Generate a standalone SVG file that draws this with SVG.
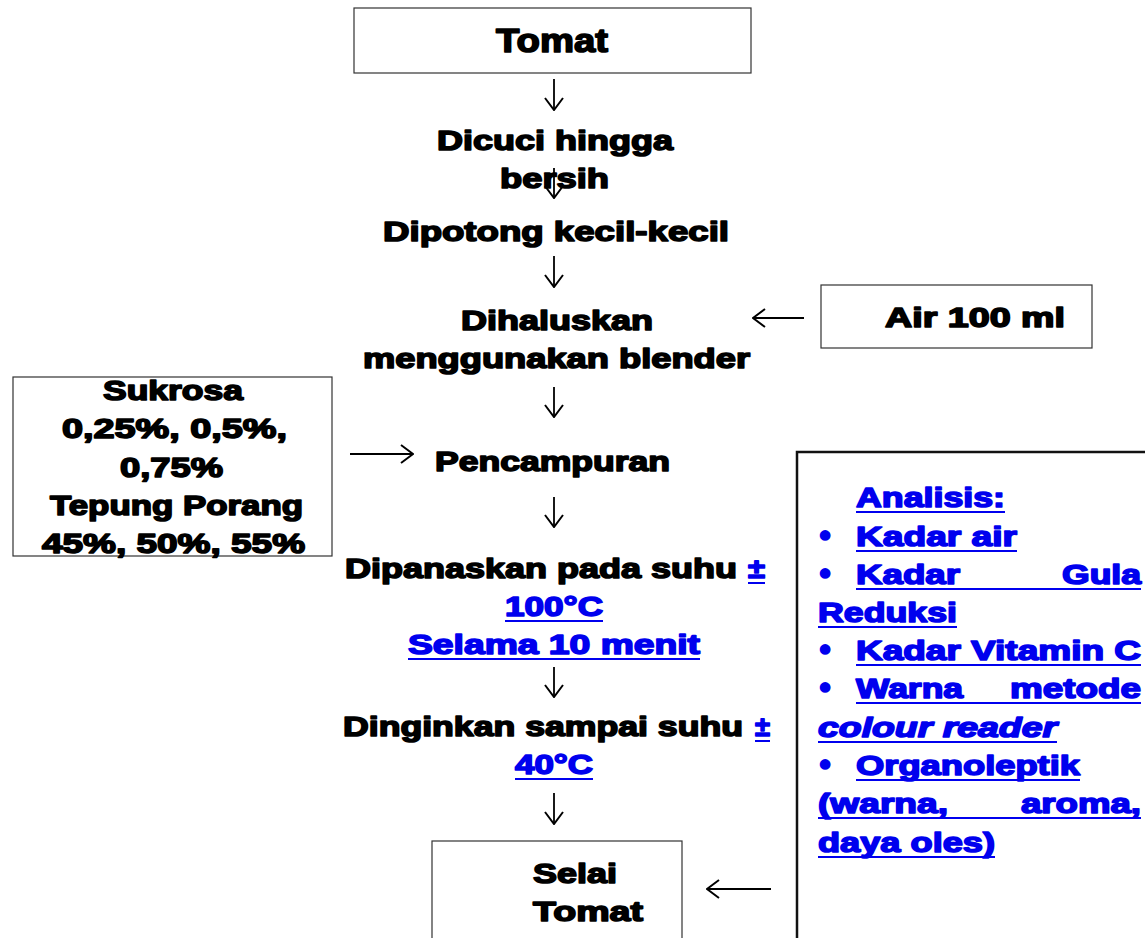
<svg xmlns="http://www.w3.org/2000/svg" width="1145" height="938" viewBox="0 0 1145 938">
<style>
text{font-family:"Liberation Sans",Arial,sans-serif;font-weight:bold;font-size:28px;stroke-width:1.6;stroke-linejoin:round}
.k{fill:#000;stroke:#000}
.b{fill:#0000ee;stroke:#0000ee}
.big{font-size:33px}
.it{font-style:italic}
.bu{font-size:32px}
.box{fill:#fff;stroke:#333;stroke-width:1.2}
.ul{stroke:#0000ee;stroke-width:2}
.ar{stroke:#000;stroke-width:1.8;fill:none;marker-end:url(#h)}
</style>
<defs>
<marker id="h" viewBox="0 0 14 20" refX="13" refY="10" markerWidth="14" markerHeight="20" markerUnits="userSpaceOnUse" orient="auto">
<path d="M1,1 L13,10 L1,19" fill="none" stroke="#000" stroke-width="2"/>
</marker>
</defs>
<rect width="1145" height="938" fill="#fff"/>

<g id="connectors">
<line class="ar" x1="554" y1="79" x2="554" y2="110"/>
<line class="ar" x1="554" y1="168" x2="554" y2="198"/>
<line class="ar" x1="554" y1="256" x2="554" y2="287"/>
<line class="ar" x1="804" y1="318" x2="753" y2="318"/>
<line class="ar" x1="554" y1="387" x2="554" y2="417"/>
<line class="ar" x1="350" y1="454" x2="413" y2="454"/>
<line class="ar" x1="554" y1="497" x2="554" y2="527"/>
<line class="ar" x1="554" y1="667" x2="554" y2="697"/>
<line class="ar" x1="554" y1="793" x2="554" y2="824"/>
<line class="ar" x1="771" y1="889" x2="707" y2="889"/>
</g>

<g id="node-tomat">
<rect class="box" x="354" y="8" width="397" height="65"/>
<text class="k big" x="496" y="52" textLength="112" lengthAdjust="spacingAndGlyphs">Tomat</text>
</g>

<g id="node-dicuci">
<text class="k" x="437" y="150" textLength="236" lengthAdjust="spacingAndGlyphs">Dicuci hingga</text>
<text class="k" x="500" y="188" textLength="109" lengthAdjust="spacingAndGlyphs">bersih</text>
</g>

<g id="node-dipotong">
<text class="k" x="383" y="241" textLength="346" lengthAdjust="spacingAndGlyphs">Dipotong kecil-kecil</text>
</g>

<g id="node-dihaluskan">
<text class="k" x="461" y="330" textLength="192" lengthAdjust="spacingAndGlyphs">Dihaluskan</text>
<text class="k" x="363" y="368" textLength="387" lengthAdjust="spacingAndGlyphs">menggunakan blender</text>
</g>

<g id="node-air">
<rect class="box" x="821" y="285" width="271" height="63"/>
<text class="k" x="885" y="327" textLength="180" lengthAdjust="spacingAndGlyphs">Air 100 ml</text>
</g>

<g id="node-bahan">
<rect class="box" x="13" y="377" width="319" height="179"/>
<text class="k" x="103" y="400" textLength="140" lengthAdjust="spacingAndGlyphs">Sukrosa</text>
<text class="k" x="62" y="438" textLength="225" lengthAdjust="spacingAndGlyphs">0,25%, 0,5%,</text>
<text class="k" x="120" y="477" textLength="103" lengthAdjust="spacingAndGlyphs">0,75%</text>
<text class="k" x="50" y="515" textLength="253" lengthAdjust="spacingAndGlyphs">Tepung Porang</text>
<text class="k" x="42" y="553" textLength="263" lengthAdjust="spacingAndGlyphs">45%, 50%, 55%</text>
</g>

<g id="node-pencampuran">
<text class="k" x="435" y="471" textLength="235" lengthAdjust="spacingAndGlyphs">Pencampuran</text>
</g>

<g id="node-dipanaskan">
<text class="k" x="345" y="578" textLength="392" lengthAdjust="spacingAndGlyphs">Dipanaskan pada suhu</text>
<text class="b" x="748" y="578" textLength="17" lengthAdjust="spacingAndGlyphs">±</text>
<line class="ul" x1="748" y1="583" x2="765" y2="583"/>
<text class="b" x="505" y="616" textLength="98" lengthAdjust="spacingAndGlyphs">100°C</text>
<line class="ul" x1="505" y1="621" x2="603" y2="621"/>
<text class="b" x="408" y="654" textLength="292" lengthAdjust="spacingAndGlyphs">Selama 10 menit</text>
<line class="ul" x1="408" y1="659" x2="700" y2="659"/>
</g>

<g id="node-dinginkan">
<text class="k" x="343" y="736" textLength="400" lengthAdjust="spacingAndGlyphs">Dinginkan sampai suhu</text>
<text class="b" x="755" y="736" textLength="15" lengthAdjust="spacingAndGlyphs">±</text>
<line class="ul" x1="755" y1="741" x2="770" y2="741"/>
<text class="b" x="515" y="774" textLength="78" lengthAdjust="spacingAndGlyphs">40°C</text>
<line class="ul" x1="515" y1="779" x2="593" y2="779"/>
</g>

<g id="node-selai">
<rect class="box" x="432" y="841" width="250" height="110"/>
<text class="k" x="533" y="883" textLength="84" lengthAdjust="spacingAndGlyphs">Selai</text>
<text class="k" x="533" y="921" textLength="110" lengthAdjust="spacingAndGlyphs">Tomat</text>
</g>

<g id="node-analisis">
<rect x="797" y="452" width="400" height="520" fill="#fff" stroke="#111" stroke-width="2.5"/>
<text class="b" x="856" y="507" textLength="149" lengthAdjust="spacingAndGlyphs">Analisis:</text>
<line class="ul" x1="856" y1="512" x2="1005" y2="512"/>
<text class="b bu" x="825" y="546" text-anchor="middle">•</text>
<text class="b" x="856" y="546" textLength="161" lengthAdjust="spacingAndGlyphs">Kadar air</text>
<line class="ul" x1="856" y1="551" x2="1017" y2="551"/>
<text class="b bu" x="825" y="584" text-anchor="middle">•</text>
<text class="b" x="856" y="584" textLength="104" lengthAdjust="spacingAndGlyphs">Kadar</text>
<text class="b" x="1062" y="584" textLength="79" lengthAdjust="spacingAndGlyphs">Gula</text>
<line class="ul" x1="856" y1="589" x2="1141" y2="589"/>
<text class="b" x="818" y="622" textLength="139" lengthAdjust="spacingAndGlyphs">Reduksi</text>
<line class="ul" x1="818" y1="627" x2="957" y2="627"/>
<text class="b bu" x="825" y="660" text-anchor="middle">•</text>
<text class="b" x="856" y="660" textLength="285" lengthAdjust="spacingAndGlyphs">Kadar Vitamin C</text>
<line class="ul" x1="856" y1="665" x2="1141" y2="665"/>
<text class="b bu" x="825" y="698" text-anchor="middle">•</text>
<text class="b" x="856" y="698" textLength="107" lengthAdjust="spacingAndGlyphs">Warna</text>
<text class="b" x="1010" y="698" textLength="131" lengthAdjust="spacingAndGlyphs">metode</text>
<line class="ul" x1="856" y1="703" x2="1141" y2="703"/>
<text class="b it" x="818" y="737" textLength="239" lengthAdjust="spacingAndGlyphs">colour reader</text>
<line class="ul" x1="818" y1="742" x2="1057" y2="742"/>
<text class="b bu" x="825" y="775" text-anchor="middle">•</text>
<text class="b" x="856" y="775" textLength="224" lengthAdjust="spacingAndGlyphs">Organoleptik</text>
<line class="ul" x1="856" y1="780" x2="1080" y2="780"/>
<text class="b" x="818" y="813" textLength="130" lengthAdjust="spacingAndGlyphs">(warna,</text>
<text class="b" x="1021" y="813" textLength="120" lengthAdjust="spacingAndGlyphs">aroma,</text>
<line class="ul" x1="818" y1="818" x2="1141" y2="818"/>
<text class="b" x="818" y="852" textLength="177" lengthAdjust="spacingAndGlyphs">daya oles)</text>
<line class="ul" x1="818" y1="857" x2="995" y2="857"/>
</g>
</svg>
